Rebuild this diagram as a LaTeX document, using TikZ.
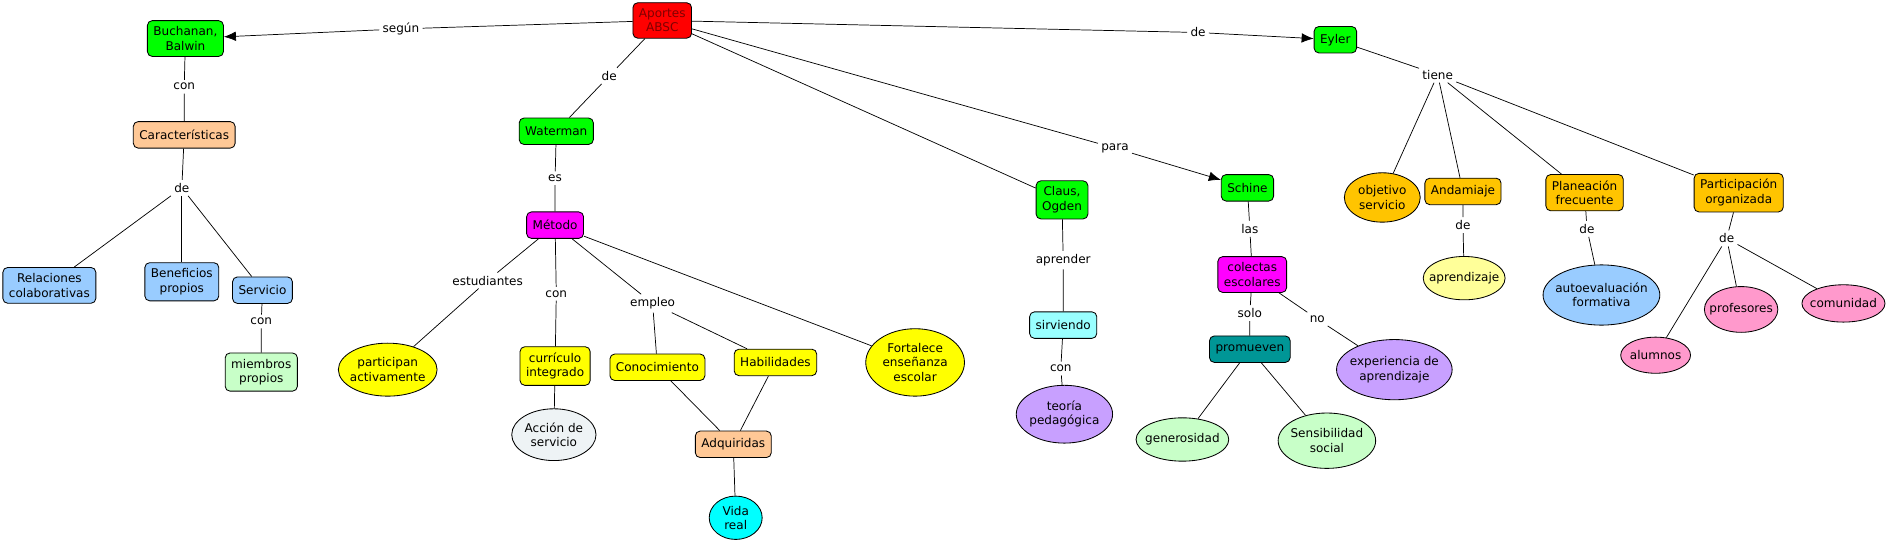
\documentclass[tikz,border=0pt]{standalone}
\usepackage{fontspec}
\setmainfont{DejaVu Sans}
\usepackage{tikz}
\usetikzlibrary{shapes.geometric, arrows.meta}

\definecolor{cgreen}{RGB}{0,255,0}
\definecolor{cred}{RGB}{255,0,0}
\definecolor{ctxtred}{RGB}{128,0,0}
\definecolor{cpeach}{RGB}{255,200,150}
\definecolor{cblue}{RGB}{153,204,255}
\definecolor{clgreen}{RGB}{200,255,200}
\definecolor{cmagenta}{RGB}{255,0,255}
\definecolor{cyellow}{RGB}{255,255,0}
\definecolor{cgrey}{RGB}{238,243,245}
\definecolor{ccyan}{RGB}{0,255,255}
\definecolor{clcyan}{RGB}{153,255,255}
\definecolor{cpurple}{RGB}{200,160,255}
\definecolor{cteal}{RGB}{0,150,150}
\definecolor{cgold}{RGB}{255,196,0}
\definecolor{clyellow}{RGB}{255,255,153}
\definecolor{cpink}{RGB}{255,153,204}

\tikzset{
  concept/.style={draw, rounded corners=4pt, align=center, inner xsep=5pt,
    inner ysep=5pt, minimum height=22pt, line width=0.7pt},
  oval/.style 2 args={draw, ellipse, align=center, inner xsep=-10pt,
    inner ysep=-4pt, minimum width=#1pt, minimum height=#2pt, line width=0.7pt},
  linkword/.style={inner sep=2.5pt},
}

\begin{document}
\begin{tikzpicture}[x=1pt, y=-1pt, line width=0.6pt,
    font=\fontsize{10}{12}\selectfont, >={Latex[length=10pt,width=8pt]}]
  \useasboundingbox (0,0) rectangle (1568,449.3);
  % concepts
  \node (aportes) at (550,17) [concept, fill=cred, text=ctxtred] {Aportes\\ABSC};
  \node (buchanan) at (154,32) [concept, fill=cgreen] {Buchanan,\\Balwin};
  \node (carac) at (153,112) [concept, fill=cpeach] {Características};
  \node (relac) at (41,237) [concept, fill=cblue] {Relaciones\\colaborativas};
  \node (benef) at (151,234) [concept, fill=cblue] {Beneficios\\propios};
  \node (servicio) at (218,241) [concept, fill=cblue] {Servicio};
  \node (miembros) at (217,309) [concept, fill=clgreen] {miembros\\propios};
  \node (waterman) at (462,109) [concept, fill=cgreen] {Waterman};
  \node (metodo) at (461,187) [concept, fill=cmagenta] {Método};
  \node (particip) at (322,307) [oval={82}{44}, fill=cyellow] {participan\\activamente};
  \node (curric) at (461,304) [concept, fill=cyellow] {currículo\\integrado};
  \node (accion) at (460,361) [oval={70}{43}, fill=cgrey] {Acción de\\servicio};
  \node (conoc) at (546,305) [concept, fill=cyellow] {Conocimiento};
  \node (habil) at (644,301) [concept, fill=cyellow] {Habilidades};
  \node (adquir) at (609,369) [concept, fill=cpeach] {Adquiridas};
  \node (vida) at (611,430) [oval={44}{36}, fill=ccyan] {Vida\\real};
  \node (fortal) at (760,301) [oval={82}{56}, fill=cyellow] {Fortalece\\enseñanza\\escolar};
  \node (claus) at (882,166) [concept, fill=cgreen] {Claus,\\Ogden};
  \node (sirv) at (883,270) [concept, fill=clcyan] {sirviendo};
  \node (teoria) at (884,344) [oval={80}{48}, fill=cpurple] {teoría\\pedagógica};
  \node (schine) at (1036,156) [concept, fill=cgreen] {Schine};
  \node (colect) at (1040,228) [concept, fill=cmagenta] {colectas\\escolares};
  \node (promuev) at (1038,290) [concept, fill=cteal] {promueven};
  \node (gener) at (982,365) [oval={77}{36}, fill=clgreen] {generosidad};
  \node (sensib) at (1102,366) [oval={81}{46}, fill=clgreen] {Sensibilidad\\social};
  \node (experi) at (1158,307) [oval={96}{50}, fill=cpurple] {experiencia de\\aprendizaje};
  \node (eyler) at (1109,33) [concept, fill=cgreen] {Eyler};
  \node (objet) at (1148,164) [oval={63}{41}, fill=cgold] {objetivo\\servicio};
  \node (andam) at (1215,159) [concept, fill=cgold] {Andamiaje};
  \node (aprend) at (1216,231) [oval={68}{36}, fill=clyellow] {aprendizaje};
  \node (planea) at (1316,160) [concept, fill=cgold] {Planeación\\frecuente};
  \node (autoev) at (1330,245) [oval={97}{50}, fill=cblue] {autoevaluación\\formativa};
  \node (partic) at (1444,160) [concept, fill=cgold] {Participación\\organizada};
  \node (alumn) at (1375,295) [oval={58}{30}, fill=cpink] {alumnos};
  \node (profes) at (1446,257) [oval={61}{38}, fill=cpink] {profesores};
  \node (comun) at (1531,252) [oval={69}{31}, fill=cpink] {comunidad};
  % linking words
  \node (lsegun) at (333,24) [linkword] {según};
  \node (ldeeyler) at (995,27) [linkword] {de};
  \node (ldewater) at (506,63) [linkword] {de};
  \node (lpara) at (926,123) [linkword] {para};
  \node (lconbuch) at (153,72) [linkword] {con};
  \node (ldecarac) at (151,156) [linkword] {de};
  \node (lconserv) at (217,267) [linkword] {con};
  \node (les) at (461,148) [linkword] {es};
  \node (lestud) at (405,233) [linkword] {estudiantes};
  \node (lconmet) at (462,244) [linkword] {con};
  \node (lempleo) at (542,252) [linkword] {empleo};
  \node (laprender) at (883,216) [linkword] {aprender};
  \node (lconsirv) at (881,306) [linkword] {con};
  \node (llas) at (1038,190) [linkword] {las};
  \node (lsolo) at (1038,260) [linkword] {solo};
  \node (lno) at (1094,265) [linkword] {no};
  \node (ltiene) at (1194,62) [linkword] {tiene};
  \node (ldeandam) at (1215,187) [linkword] {de};
  \node (ldeplan) at (1318,190) [linkword] {de};
  \node (ldepart) at (1434,198) [linkword] {de};
  % connectors
  \draw (aportes) -- (lsegun);
  \draw [->] (lsegun) -- (buchanan);
  \draw (aportes) -- (ldeeyler);
  \draw [->] (ldeeyler) -- (eyler);
  \draw (aportes) -- (lpara);
  \draw [->] (lpara) -- (schine);
  \draw (aportes) -- (ldewater) -- (waterman);
  \draw (aportes) -- (claus);
  \draw (buchanan) -- (lconbuch) -- (carac);
  \draw (carac) -- (ldecarac);
  \draw (ldecarac) -- (relac);
  \draw (ldecarac) -- (benef);
  \draw (ldecarac) -- (servicio);
  \draw (servicio) -- (lconserv) -- (miembros);
  \draw (waterman) -- (les) -- (metodo);
  \draw (metodo) -- (lestud) -- (particip);
  \draw (metodo) -- (lconmet) -- (curric);
  \draw (metodo) -- (lempleo);
  \draw (lempleo) -- (conoc);
  \draw (lempleo) -- (habil);
  \draw (metodo) -- (fortal);
  \draw (curric) -- (accion);
  \draw (conoc) -- (adquir);
  \draw (habil) -- (adquir);
  \draw (adquir) -- (vida);
  \draw (claus) -- (laprender) -- (sirv);
  \draw (sirv) -- (lconsirv) -- (teoria);
  \draw (schine) -- (llas) -- (colect);
  \draw (colect) -- (lsolo) -- (promuev);
  \draw (colect) -- (lno) -- (experi);
  \draw (promuev) -- (gener);
  \draw (promuev) -- (sensib);
  \draw (eyler) -- (ltiene);
  \draw (ltiene) -- (objet);
  \draw (ltiene) -- (andam);
  \draw (ltiene) -- (planea);
  \draw (ltiene) -- (partic);
  \draw (andam) -- (ldeandam) -- (aprend);
  \draw (planea) -- (ldeplan) -- (autoev);
  \draw (partic) -- (ldepart);
  \draw (ldepart) -- (alumn);
  \draw (ldepart) -- (profes);
  \draw (ldepart) -- (comun);
\end{tikzpicture}
\end{document}
